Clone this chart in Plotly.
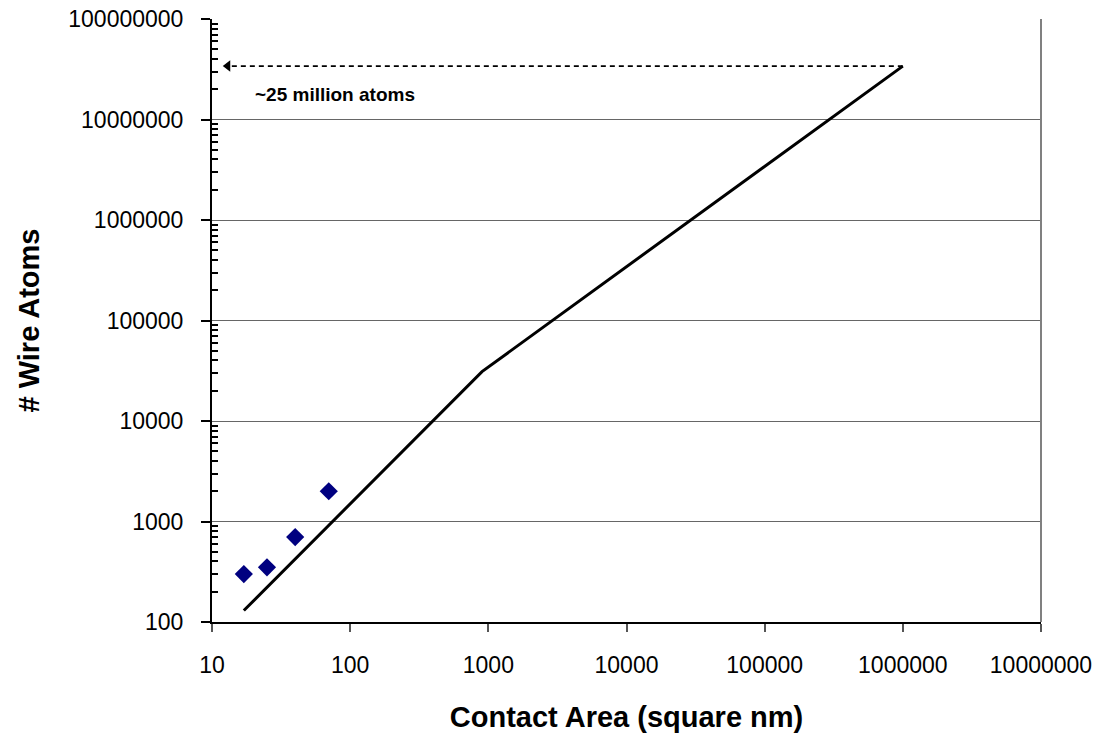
import plotly.graph_objects as go

# Measured contact area vs. number of wire atoms
area_measured = [17, 25, 40, 70]
atoms_measured = [300, 350, 700, 2000]

# Scaling estimate (two regimes, kink near 900 nm^2)
area_model = [17, 900, 1000000]
atoms_model = [130, 31000, 34000000]

# Dashed pointer back to the y axis at the largest estimate
pointer_x = [1000000, 13]
pointer_y = [34000000, 34000000]

x_tickvals = [10, 100, 1000, 10000, 100000, 1000000, 10000000]
x_ticktext = ["10", "100", "1000", "10000", "100000", "1000000", "10000000"]
y_tickvals = [100, 1000, 10000, 100000, 1000000, 10000000, 100000000]
y_ticktext = ["100", "1000", "10000", "100000", "1000000", "10000000", "100000000"]
y_minor = [m * 10 ** k for k in range(2, 8) for m in range(2, 10)]

FONT = "Liberation Sans, Arial, sans-serif"

fig = go.Figure()

fig.add_trace(go.Scatter(
    x=pointer_x, y=pointer_y, mode="lines",
    line=dict(color="black", width=1.6, dash="5px,4px"),
    showlegend=False, hoverinfo="skip",
))
fig.add_trace(go.Scatter(
    x=[pointer_x[-1]], y=[pointer_y[-1]], mode="markers",
    marker=dict(symbol="triangle-left", size=10, color="black"),
    showlegend=False, hoverinfo="skip",
))
fig.add_trace(go.Scatter(
    x=area_model, y=atoms_model, mode="lines",
    line=dict(color="black", width=3),
    showlegend=False,
))
fig.add_trace(go.Scatter(
    x=area_measured, y=atoms_measured, mode="markers",
    marker=dict(symbol="diamond", size=14, color="#000080"),
    showlegend=False,
))

fig.add_annotation(
    x=1.297, y=7.244, xref="x", yref="y",
    text="<b>~25 million atoms</b>", showarrow=False,
    xanchor="left", yanchor="middle",
    font=dict(family=FONT, size=19, color="black"),
)

# Right-hand plot border
fig.add_shape(type="line", xref="paper", yref="paper", x0=1, x1=1, y0=0, y1=1,
              line=dict(color="#808080", width=2))

fig.update_xaxes(
    type="log", range=[1, 7],
    tickvals=x_tickvals, ticktext=x_ticktext,
    ticks="outside", ticklen=8, tickwidth=2, tickcolor="#555555",
    ticklabelstandoff=13,
    showline=True, linecolor="black", linewidth=2,
    showgrid=False, zeroline=False,
    tickfont=dict(family=FONT, size=23, color="black"),
    title=dict(text="<b>Contact Area (square nm)</b>", standoff=30,
               font=dict(family=FONT, size=29, color="black")),
)
fig.update_yaxes(
    type="log", range=[2, 8],
    tickvals=y_tickvals, ticktext=y_ticktext,
    ticks="outside", ticklen=9, tickwidth=1.5, tickcolor="black",
    ticklabelstandoff=13,
    minor=dict(tickvals=y_minor, ticks="inside", ticklen=6, tickwidth=1.5,
               tickcolor="black", showgrid=False),
    showline=True, linecolor="black", linewidth=2,
    showgrid=True, gridcolor="#666666", gridwidth=1.3,
    zeroline=False,
    tickfont=dict(family=FONT, size=23, color="black"),
    title=dict(text="<b># Wire Atoms</b>", standoff=20,
               font=dict(family=FONT, size=29, color="black")),
)

fig.update_layout(
    width=1107, height=733,
    margin=dict(l=212, r=66, t=19, b=111, autoexpand=False),
    paper_bgcolor="white", plot_bgcolor="white",
    font=dict(family=FONT, color="black"),
)

fig.write_html("out.html")
